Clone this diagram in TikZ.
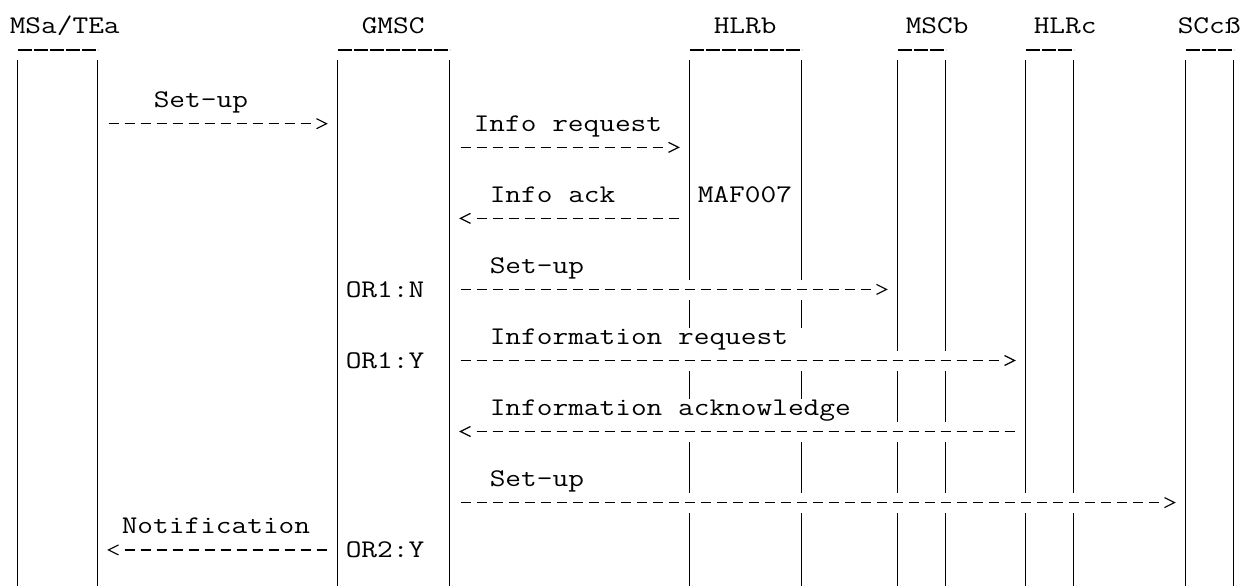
\documentclass[tikz,border=0pt]{standalone}
\usepackage{graphicx}
\newcommand\monofont{\fontsize{19.05pt}{22pt}\ttfamily\selectfont}
\newcommand\mtxt[1]{\scalebox{1.2}[1]{#1}}
\begin{document}
\begin{tikzpicture}[x=0.75pt,y=-0.75pt,line cap=butt,
  lbl/.style={anchor=base west,inner sep=0pt,font=\monofont},
  lifeline/.style={line width=1pt,black},
  headline/.style={line width=1.9pt,black,dash pattern=on 10.875pt off 1.125pt},
  dashline/.style={line width=1pt,black,dash pattern=on 7.5pt off 4.5pt},
  chev/.style={line width=0.9pt,black,line join=miter}]
\useasboundingbox (0,0) rectangle (1243,586);
\fill[white] (0,0) rectangle (1243,586);

% headers
\node[lbl] (hA) at ({9.5+16*0},33) {\mtxt{MSa/TEa}};
\node[lbl] (hG) at ({9.5+16*22},33) {\mtxt{GMSC}};
\node[lbl] (hH) at ({9.5+16*44},33) {\mtxt{HLRb}};
\node[lbl] (hM) at ({9.5+16*56},33) {\mtxt{MSCb}};
\node[lbl] (hC) at ({9.5+16*64},33) {\mtxt{HLRc}};
\node[lbl] (hS) at ({9.5+16*73},33) {\mtxt{SCcß}};

% header underlines (between the two lifelines of each entity)
\foreach \a/\b in {0/5,20/27,42/49,55/58,63/66,73/76}{
  \coordinate (u\a) at ({17.5+16*\a},50);
  \coordinate (v\a) at ({17.5+16*\b},50);
  \draw[headline] (u\a) -- (v\a);
}

% lifelines: column / top / bottom
\foreach \c/\t/\bt [count=\i] in {
  0/60/586, 5/60/586, 20/60/586, 27/60/586, 73/60/586, 76/60/586,
  42/60/280.3, 42/300.1/327.6, 42/371.2/398.7, 42/442.2/493.4, 42/513.2/586,
  49/60/280.3, 49/300.1/327.6, 49/371.2/398.7, 49/442.2/493.4, 49/513.2/586,
  55/60/351.3, 55/371.2/422.3, 55/442.2/493.4, 55/513.2/586,
  58/60/351.3, 58/371.2/422.3, 58/442.2/493.4, 58/513.2/586,
  63/60/493.4, 63/513.2/586,
  66/60/493.4, 66/513.2/586}{
  \coordinate (lt\i) at ({17.5+16*\c},\t);
  \coordinate (lb\i) at ({17.5+16*\c},\bt);
  \draw[lifeline] (lt\i) -- (lb\i);
}

% right-pointing arrows: row / first col / arrow-head col
\foreach \r/\a/\b in {1/6/19, 2/28/41, 8/28/54, 11/28/62, 17/28/72}{
  \coordinate (rs\r) at ({12.5+16*\a},{100+23.68*\r});
  \coordinate (re\r) at ({6.5+16*\b},{100+23.68*\r});
  \coordinate (rt\r) at ({22.5+16*\b},{100+23.68*\r});
  \draw[dashline] (rs\r) -- (re\r);
  \draw[chev] (rt\r) ++(-10,-5) -- (rt\r) -- ++(-10,5);
}

% left-pointing arrows: row / arrow-head col / last col
\foreach \r/\a/\b in {5/28/41, 14/28/62, 19/6/19}{
  \coordinate (ah\r) at ({12.5+16*\a},{100+23.68*\r});
  \coordinate (ls\r) at ({28.5+16*\a},{100+23.68*\r});
  \coordinate (le\r) at ({22.5+16*\b},{100+23.68*\r});
  \draw[dashline] (ls\r) -- (le\r);
  \draw[chev] (ah\r) ++(10,-5) -- (ah\r) -- ++(10,5);
}

% labels
\node[lbl] (m1) at ({9.5+16*9},{107.75+23.68*0}) {\mtxt{Set-up}};
\node[lbl] (m2) at ({9.5+16*29},{107.75+23.68*1}) {\mtxt{Info request}};
\node[lbl] (m3) at ({9.5+16*30},{107.75+23.68*4}) {\mtxt{Info ack}};
\node[lbl] (maf) at ({9.5+16*43},{107.75+23.68*4}) {\mtxt{MAF007}};
\node[lbl] (m4) at ({9.5+16*30},{107.75+23.68*7}) {\mtxt{Set-up}};
\node[lbl] (or1n) at ({9.5+16*21},{107.75+23.68*8}) {\mtxt{OR1:N}};
\node[lbl] (m5) at ({9.5+16*30},{107.75+23.68*10}) {\mtxt{Information request}};
\node[lbl] (or1y) at ({9.5+16*21},{107.75+23.68*11}) {\mtxt{OR1:Y}};
\node[lbl] (m6) at ({9.5+16*30},{107.75+23.68*13}) {\mtxt{Information acknowledge}};
\node[lbl] (m7) at ({9.5+16*30},{107.75+23.68*16}) {\mtxt{Set-up}};
\node[lbl] (m8) at ({9.5+16*7},{107.75+23.68*18}) {\mtxt{Notification}};
\node[lbl] (or2y) at ({9.5+16*21},{107.75+23.68*19}) {\mtxt{OR2:Y}};
\end{tikzpicture}
\end{document}
